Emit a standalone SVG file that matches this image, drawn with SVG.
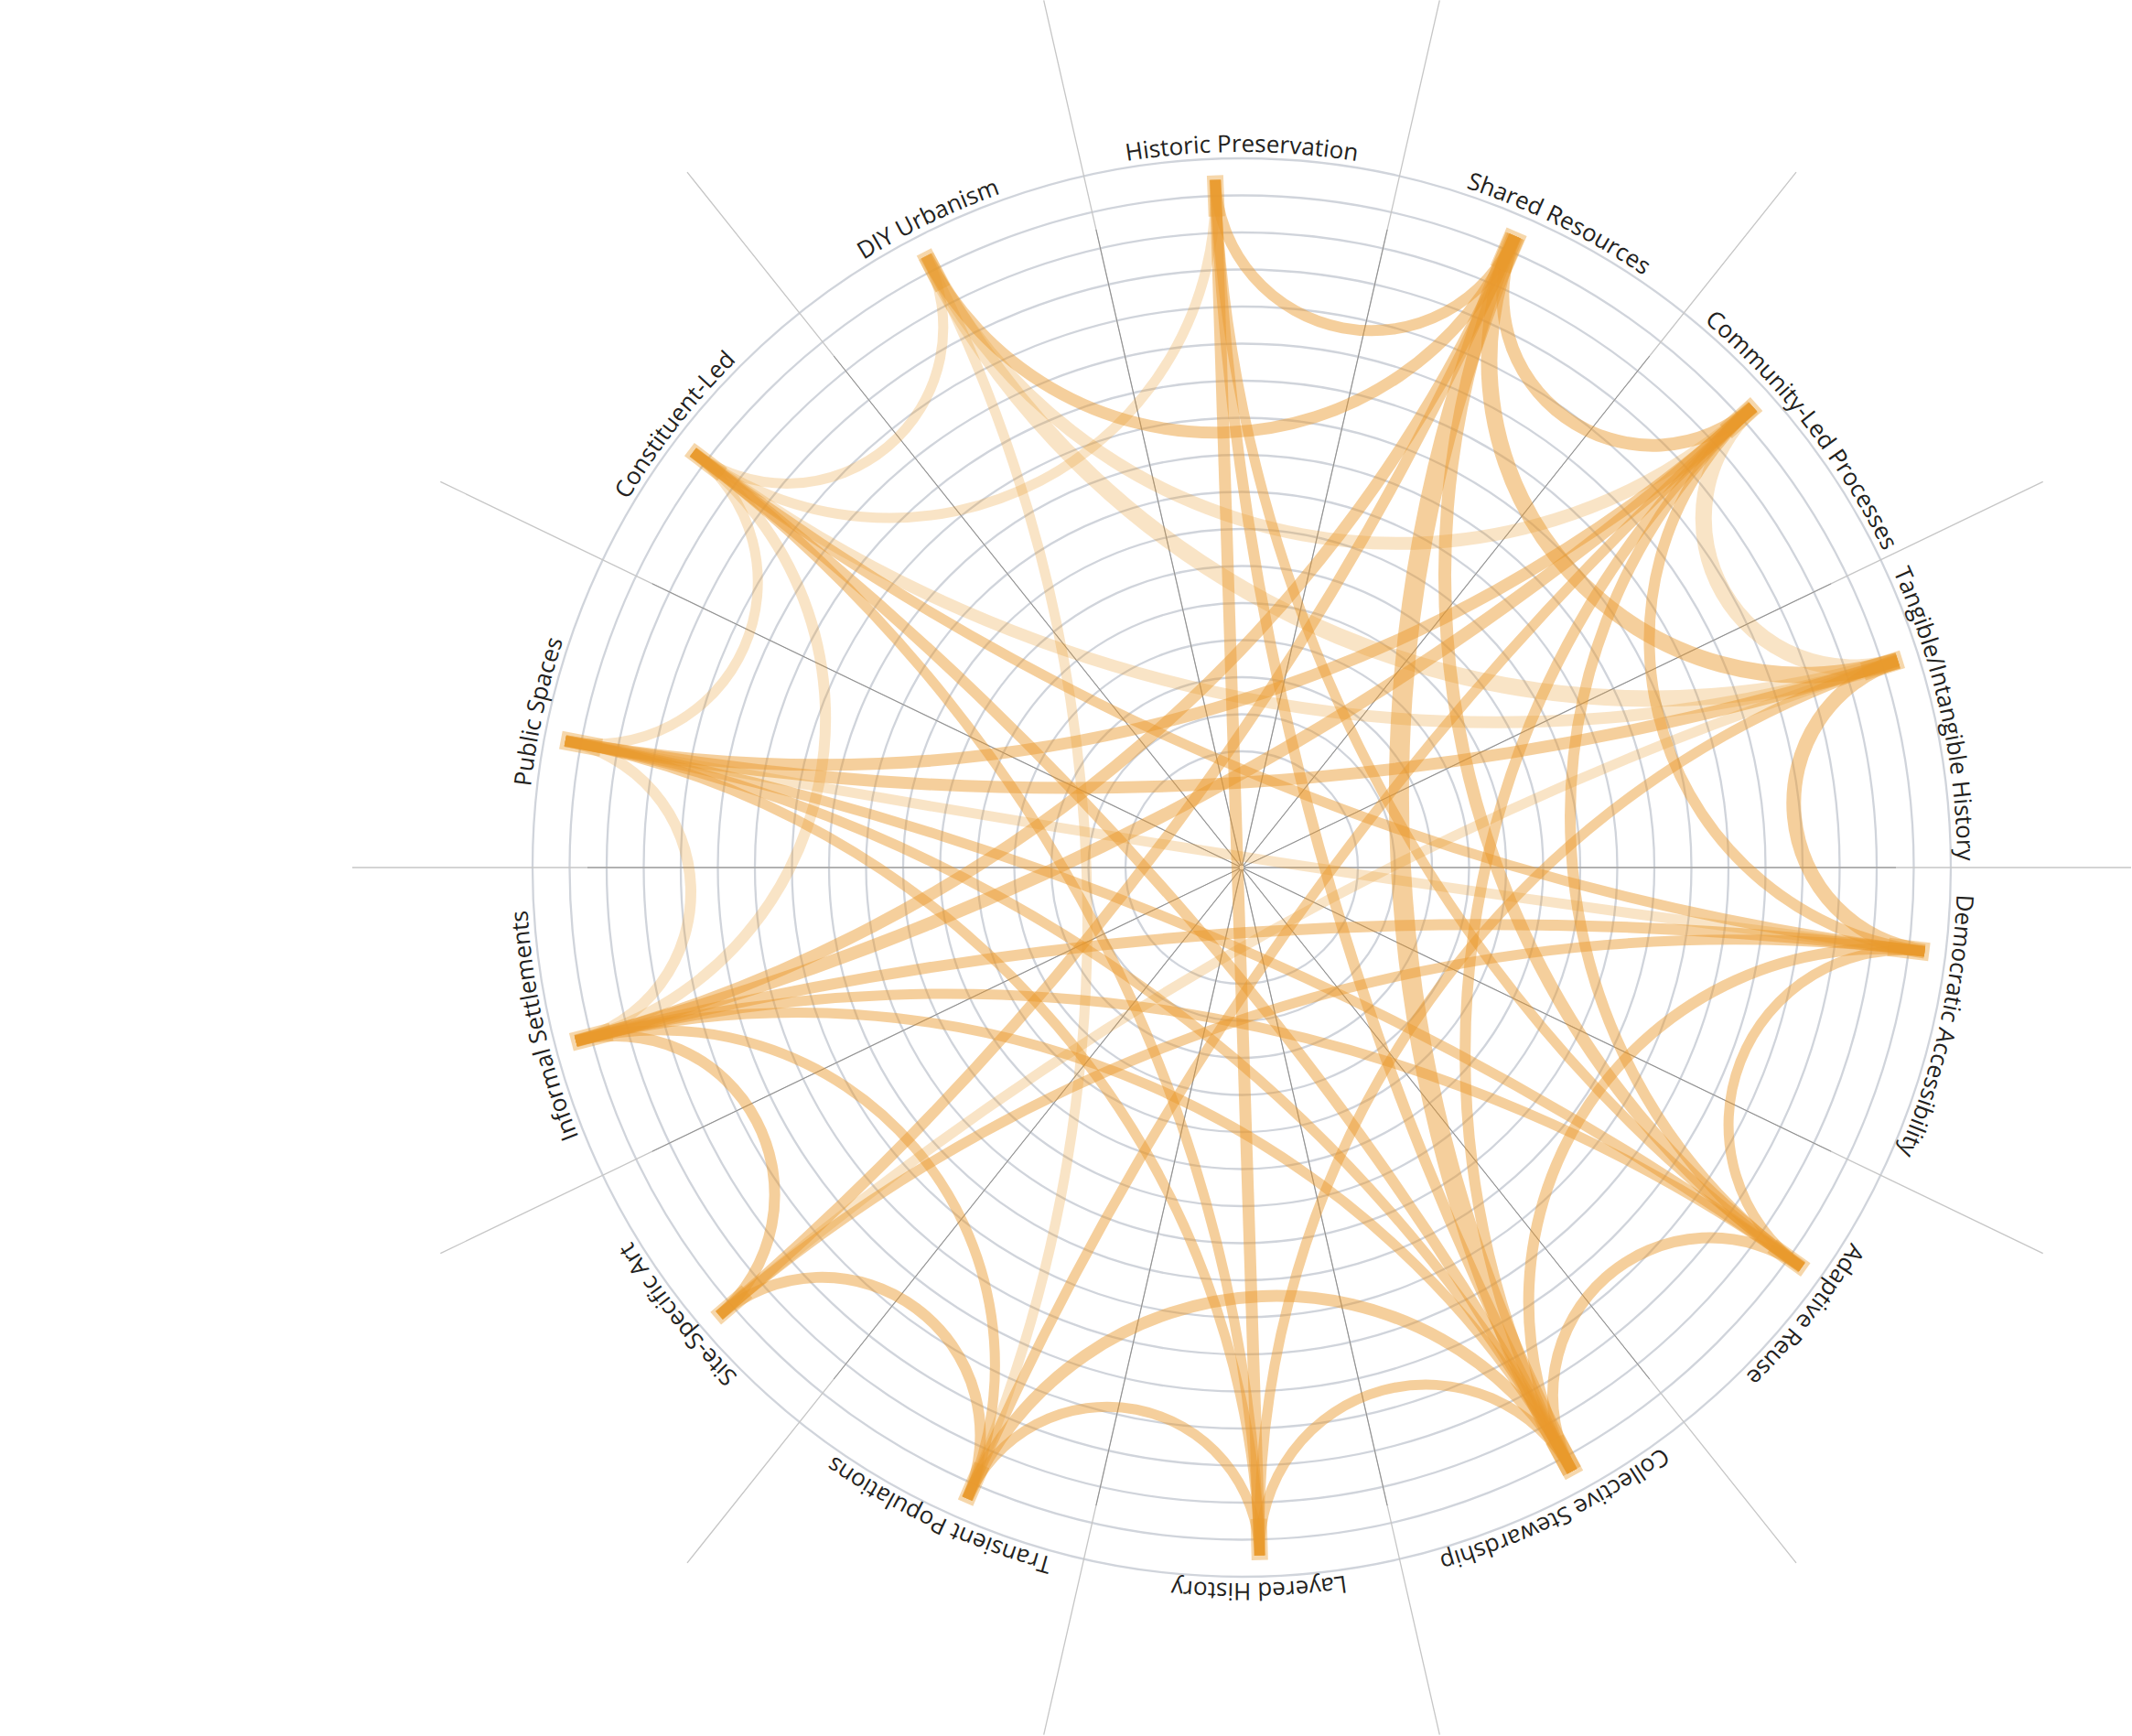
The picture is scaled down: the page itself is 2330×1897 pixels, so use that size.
<svg xmlns="http://www.w3.org/2000/svg" width="2330" height="1897" viewBox="0 0 2330 1897">
<style>
.bg{fill:#ffffff}
.grid{fill:none;stroke:#d0d4db;stroke-width:2.3}
.ray{stroke:#c6c6c6;stroke-width:1.3;fill:none}
.rayi{stroke:#8f8f8f;stroke-width:1;fill:none}
.lk{fill:none;stroke:#E99A2C;stroke-linecap:butt}
.m{stroke-opacity:.47}
.l{stroke-opacity:.27}
.bar{stroke:#E99A2C;stroke-opacity:.4;stroke-linecap:butt;fill:none}
.w11{stroke-width:11}.w12{stroke-width:12}.w13{stroke-width:13}.w14{stroke-width:14}.w16{stroke-width:16}.w18{stroke-width:18}.w20{stroke-width:20}.w22{stroke-width:22}.w24{stroke-width:24}
.lbl{font-family:"Open Sans","Noto Sans",sans-serif;font-size:26px;fill:#231f20}
</style>
<defs>
<path id="lp" d="M575,948 A782,782 0 1 1 2139,948 A782,782 0 1 1 575,948"/>
</defs>
<rect class="bg" x="0" y="0" width="2330" height="1897"/>
<g id="grid">
<circle class="grid" cx="1357" cy="948" r="127"/>
<circle class="grid" cx="1357" cy="948" r="167.5"/>
<circle class="grid" cx="1357" cy="948" r="208"/>
<circle class="grid" cx="1357" cy="948" r="248.5"/>
<circle class="grid" cx="1357" cy="948" r="289"/>
<circle class="grid" cx="1357" cy="948" r="329.5"/>
<circle class="grid" cx="1357" cy="948" r="370"/>
<circle class="grid" cx="1357" cy="948" r="410.5"/>
<circle class="grid" cx="1357" cy="948" r="451"/>
<circle class="grid" cx="1357" cy="948" r="491.5"/>
<circle class="grid" cx="1357" cy="948" r="532"/>
<circle class="grid" cx="1357" cy="948" r="572.5"/>
<circle class="grid" cx="1357" cy="948" r="613"/>
<circle class="grid" cx="1357" cy="948" r="653.5"/>
<circle class="grid" cx="1357" cy="948" r="694"/>
<circle class="grid" cx="1357" cy="948" r="734.5"/>
<circle class="grid" cx="1357" cy="948" r="775"/>
</g>
<g id="rays">
<path class="ray" d="M1573.3,0.4 L1140.7,1895.6 M1963,188.1 L751,1707.9 M2232.7,526.3 L481.3,1369.7 M2329,948 L385,948 M2232.7,1369.7 L481.3,526.3 M1963,1707.9 L751,188.1 M1573.3,1895.6 L1140.7,0.4"/>
<path class="rayi" d="M1516.1,250.9 L1197.9,1645.1 M1802.8,389 L911.2,1507 M2001.2,637.8 L712.8,1258.2 M2072,948 L642,948 M2001.2,1258.2 L712.8,637.8 M1802.8,1507 L911.2,389 M1516.1,1645.1 L1197.9,250.9"/>
<circle cx="1357" cy="948" r="3" fill="#fff" stroke="#8f8f8f" stroke-width="1"/>
</g>
<g id="connectors">
<path class="lk m w12" d="M1328.1,196.6 A170.8,170.8 0 0 0 1655.7,257.9"/>
<path class="lk m w14" d="M1655.7,257.9 A164,164 0 0 0 1915.8,444.8"/>
<path class="lk l w18" d="M1915.8,444.8 A163.3,163.3 0 0 0 2074.2,721.9"/>
<path class="lk m w16" d="M2074.2,721.9 A163.3,163.3 0 0 0 2103.4,1039.6"/>
<path class="lk m w11" d="M2103.4,1039.6 A191,191 0 0 0 1969.2,1384.7"/>
<path class="lk m w12" d="M1969.2,1384.7 A172.2,172.2 0 0 0 1718.1,1607.6"/>
<path class="lk m w11" d="M1718.1,1607.6 A181.9,181.9 0 0 0 1376.7,1699.7"/>
<path class="lk m w11" d="M1376.7,1699.7 A166.7,166.7 0 0 0 1057.1,1637.6"/>
<path class="lk m w12" d="M1057.1,1637.6 A172.9,172.9 0 0 0 786,1437.4"/>
<path class="lk m w12" d="M786,1437.4 A173.6,173.6 0 0 0 629.3,1137.6"/>
<path class="lk l w12" d="M629.3,1137.6 A168.1,168.1 0 0 0 617.8,809.7"/>
<path class="lk l w11" d="M617.8,809.7 A177.1,177.1 0 0 0 757.4,494.1"/>
<path class="lk l w11" d="M757.4,494.1 A170.8,170.8 0 0 0 1012.1,279.8"/>
<path class="lk m w13" d="M1012.1,279.8 A356.3,356.3 0 0 0 1655.7,257.9"/>
<path class="lk m w18" d="M1655.7,257.9 A343.5,343.5 0 0 0 2074.2,721.9"/>
<path class="lk m w12" d="M2103.4,1039.6 A385.6,385.6 0 0 0 1718.1,1607.6"/>
<path class="lk m w13" d="M1718.1,1607.6 A368.4,368.4 0 0 0 1057.1,1637.6"/>
<path class="lk l w11" d="M757.4,494.1 A356.3,356.3 0 0 0 1328.1,196.6"/>
<path class="lk m w12" d="M1915.8,444.8 A342.7,342.7 0 0 0 2103.4,1039.6"/>
<path class="lk m w11" d="M1057.1,1637.6 A366,366 0 0 0 629.3,1137.6"/>
<path class="lk l w12" d="M629.3,1137.6 A364.4,364.4 0 0 0 757.4,494.1"/>
<path class="lk m w12" d="M1915.8,444.8 A603.5,603.5 0 0 0 1969.2,1384.7"/>
<path class="lk l w14" d="M1012.1,279.8 A580.1,580.1 0 0 0 1915.8,444.8"/>
<path class="lk m w14" d="M1655.7,257.9 A929.6,929.6 0 0 0 1969.2,1384.7"/>
<path class="lk m w11" d="M1328.1,196.6 A1532,1532 0 0 0 1969.2,1384.7"/>
<path class="lk m w12" d="M1915.8,444.8 A950.3,950.3 0 0 0 1718.1,1607.6"/>
<path class="lk l w18" d="M1012.1,279.8 A892.2,892.2 0 0 0 2074.2,721.9"/>
<path class="lk m w11" d="M1718.1,1607.6 A964.6,964.6 0 0 0 629.3,1137.6"/>
<path class="lk m w11" d="M1376.7,1699.7 A929.6,929.6 0 0 0 617.8,809.7"/>
<path class="lk m w11" d="M2074.2,721.9 A997.9,997.9 0 0 0 1376.7,1699.7"/>
<path class="lk m w22" d="M1655.7,257.9 A1536.1,1536.1 0 0 0 1718.1,1607.6"/>
<path class="lk m w13" d="M629.3,1137.6 A1541.8,1541.8 0 0 0 1655.7,257.9"/>
<path class="lk m w13" d="M617.8,809.7 A1519.3,1519.3 0 0 0 1915.8,444.8"/>
<path class="lk l w13" d="M757.4,494.1 A1456.5,1456.5 0 0 0 2074.2,721.9"/>
<path class="lk m w11" d="M1969.2,1384.7 A1612.7,1612.7 0 0 0 629.3,1137.6"/>
<path class="lk m w11" d="M1718.1,1607.6 A1588.5,1588.5 0 0 0 617.8,809.7"/>
<path class="lk m w11" d="M1376.7,1699.7 A1561.9,1561.9 0 0 0 757.4,494.1"/>
<path class="lk l w11" d="M1057.1,1637.6 A1584.5,1584.5 0 0 0 1012.1,279.8"/>
<path class="lk m w11" d="M2103.4,1039.6 A1702.3,1702.3 0 0 0 786,1437.4"/>
<path class="lk m w12" d="M1328.1,196.6 A3191.9,3191.9 0 0 0 1718.1,1607.6"/>
<path class="lk m w14" d="M629.3,1137.6 A3084.8,3084.8 0 0 0 1915.8,444.8"/>
<path class="lk m w12" d="M786,1437.4 A3257.3,3257.3 0 0 0 1655.7,257.9"/>
<path class="lk m w13" d="M617.8,809.7 A3005.1,3005.1 0 0 0 2074.2,721.9"/>
<path class="lk m w12" d="M2103.4,1039.6 A3942.1,3942.1 0 0 0 629.3,1137.6"/>
<path class="lk m w11" d="M757.4,494.1 A2794.1,2794.1 0 0 0 2103.4,1039.6"/>
<path class="lk m w11" d="M1969.2,1384.7 A3406.5,3406.5 0 0 0 617.8,809.7"/>
<path class="lk m w12" d="M1718.1,1607.6 A3507.8,3507.8 0 0 0 757.4,494.1"/>
<path class="lk l w11" d="M2074.2,721.9 A3681.6,3681.6 0 0 0 786,1437.4"/>
<path class="lk m w11" d="M1915.8,444.8 A3463.5,3463.5 0 0 0 1057.1,1637.6"/>
<path class="lk m w13" d="M1328.1,196.6 L1376.7,1699.7"/>
<path class="lk l w11" d="M617.8,809.7 A23928,23928 0 0 0 2103.4,1039.6"/>
</g>
<g id="node-historic-preservation"><path class="bar w18" d="M1327.9,191.6 L1329.7,236.5"/><text class="lbl"><textPath href="#lp" startOffset="1228.4" text-anchor="middle">Historic Preservation</textPath></text></g>
<g id="node-shared-resources"><path class="bar w24" d="M1657.6,253.3 L1639.8,294.6"/><text class="lbl"><textPath href="#lp" startOffset="1586" text-anchor="middle">Shared Resources</textPath></text></g>
<g id="node-community-led-processes"><path class="bar w20" d="M1919.6,441.5 L1886.1,471.6"/><text class="lbl"><textPath href="#lp" startOffset="1938.1" text-anchor="middle">Community-Led Processes</textPath></text></g>
<g id="node-tangible-intangible-history"><path class="bar w20" d="M2079,720.4 L2036,733.9"/><text class="lbl"><textPath href="#lp" startOffset="2286.1" text-anchor="middle">Tangible/Intangible History</textPath></text></g>
<g id="node-democratic-accessibility"><path class="bar w20" d="M2108.4,1040.3 L2063.7,1034.8"/><text class="lbl"><textPath href="#lp" startOffset="2631.4" text-anchor="middle">Democratic Accessibility</textPath></text></g>
<g id="node-adaptive-reuse"><path class="bar w18" d="M1973.3,1387.6 L1936.7,1361.5"/><text class="lbl"><textPath href="#lp" startOffset="2980.8" text-anchor="middle">Adaptive Reuse</textPath></text></g>
<g id="node-collective-stewardship"><path class="bar w22" d="M1720.5,1612 L1698.9,1572.5"/><text class="lbl"><textPath href="#lp" startOffset="3330.2" text-anchor="middle">Collective Stewardship</textPath></text></g>
<g id="node-layered-history"><path class="bar w18" d="M1376.8,1704.7 L1375.6,1659.8"/><text class="lbl"><textPath href="#lp" startOffset="3666" text-anchor="middle">Layered History</textPath></text></g>
<g id="node-transient-populations"><path class="bar w18" d="M1055.1,1642.2 L1073.1,1600.9"/><text class="lbl"><textPath href="#lp" startOffset="4026.3" text-anchor="middle">Transient Populations</textPath></text></g>
<g id="node-site-specific-art"><path class="bar w18" d="M782.2,1440.6 L816.4,1411.3"/><text class="lbl"><textPath href="#lp" startOffset="4389.4" text-anchor="middle">Site-Specific Art</textPath></text></g>
<g id="node-informal-settlements"><path class="bar w20" d="M624.4,1138.8 L668,1127.5"/><text class="lbl"><textPath href="#lp" startOffset="4738.8" text-anchor="middle">Informal Settlements</textPath></text></g>
<g id="node-public-spaces"><path class="bar w20" d="M612.9,808.7 L657.1,817"/><text class="lbl"><textPath href="#lp" startOffset="170.6" text-anchor="middle">Public Spaces</textPath></text></g>
<g id="node-constituent-led"><path class="bar w18" d="M753.4,491.1 L789.3,518.3"/><text class="lbl"><textPath href="#lp" startOffset="518.6" text-anchor="middle">Constituent-Led</textPath></text></g>
<g id="node-diy-urbanism"><path class="bar w18" d="M1009.8,275.3 L1030.4,315.3"/><text class="lbl"><textPath href="#lp" startOffset="876.2" text-anchor="middle">DIY Urbanism</textPath></text></g>
</svg>
